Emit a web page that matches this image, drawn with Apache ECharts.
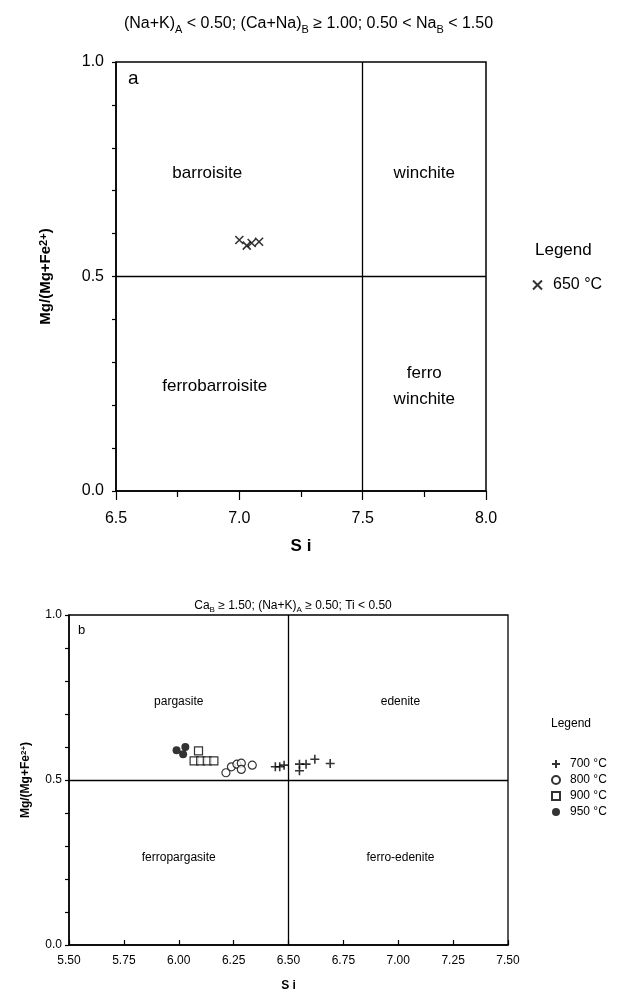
<!DOCTYPE html>
<html><head><meta charset="utf-8">
<script src="https://cdn.jsdelivr.net/npm/echarts@6/dist/echarts.min.js"></script>
<style>html,body{margin:0;padding:0;background:#fff}#c{width:617px;height:993px}</style>
</head><body><div id="c"></div>
<script>
// ---- Panel a data ----
const aTitle = '(Na+K){sub|A} < 0.50; (Ca+Na){sub|B} ≥ 1.00; 0.50 < Na{sub|B} < 1.50';
const aXTicks = [6.5, 7.0, 7.5, 8.0];
const aYTicks = [0.0, 0.5, 1.0];
const aSplitSi = 7.5;
const aSplitMg = 0.5;
const a650Si = [7.00, 7.03, 7.05, 7.08];
const a650Mg = [0.585, 0.572, 0.578, 0.581];
const aFieldNames = ['barroisite', 'winchite', 'ferrobarroisite', 'ferro\nwinchite'];
const aFieldSi = [6.87, 7.75, 6.90, 7.75];
const aFieldMg = [0.74, 0.74, 0.245, 0.245];

// ---- Panel b data ----
const bTitle = 'Ca{sub|B} ≥ 1.50; (Na+K){sub|A} ≥ 0.50; Ti < 0.50';
const bXTicks = [5.50, 5.75, 6.00, 6.25, 6.50, 6.75, 7.00, 7.25, 7.50];
const bYTicks = [0.0, 0.5, 1.0];
const bSplitSi = 6.5;
const bSplitMg = 0.5;
const b700Si = [6.44, 6.46, 6.48, 6.55, 6.55, 6.58, 6.62, 6.69];
const b700Mg = [0.540, 0.540, 0.545, 0.548, 0.528, 0.548, 0.563, 0.550];
const b800Si = [6.215, 6.24, 6.265, 6.285, 6.285, 6.335];
const b800Mg = [0.522, 0.540, 0.548, 0.551, 0.532, 0.545];
const b900Si = [6.09, 6.07, 6.10, 6.13, 6.16];
const b900Mg = [0.588, 0.558, 0.558, 0.558, 0.558];
const b950Si = [5.99, 6.03, 6.02];
const b950Mg = [0.590, 0.600, 0.578];
const bFieldNames = ['pargasite', 'edenite', 'ferropargasite', 'ferro-edenite'];
const bFieldSi = [6.00, 7.01, 6.00, 7.01];
const bFieldMg = [0.736, 0.736, 0.264, 0.264];

const FONT = 'Liberation Sans, Arial, sans-serif';
const zip = (xs, ys) => xs.map((x, i) => [x, ys[i]]);
const fields = (names, xs, ys) => names.map((n, i) => ({ name: n, value: [xs[i], ys[i]] }));
const crossPath = 'path://M0,0L10,10M10,0L0,10';
const plusPath = 'path://M5,0L5,10M0,5L10,5';

const chart = echarts.init(document.getElementById('c'), null, { renderer: 'canvas' });

function xAxisCfg(gridIndex, min, max, interval, minorSplit, fontSize, tickInside, labelMargin, name, nameSize, nameGap, decimals, ticks) {
  return {
    type: 'value', gridIndex, min, max, interval,
    axisLine: { lineStyle: { color: '#000', width: 1.5 } },
    axisTick: { show: true, inside: tickInside, length: tickInside ? 5 : 9, lineStyle: { color: '#000', width: 1.2 } },
    minorTick: { show: minorSplit > 1, splitNumber: minorSplit, length: 6, lineStyle: { color: '#000', width: 1.2 } },
    splitLine: { show: false },
    axisLabel: {
      color: '#000', fontSize, fontFamily: FONT, margin: labelMargin,
      formatter: v => { const t = ticks.find(k => Math.abs(k - v) < 1e-6); return t === undefined ? '' : t.toFixed(decimals); }
    },
    name, nameLocation: 'middle', nameGap,
    nameTextStyle: { color: '#000', fontSize: nameSize, fontWeight: 'bold', fontFamily: FONT }
  };
}
function yAxisCfg(gridIndex, fontSize, labelMargin, nameSize, nameGap, ticks) {
  return {
    type: 'value', gridIndex, min: 0, max: 1, interval: 0.1,
    axisLine: { lineStyle: { color: '#000', width: 1.5 } },
    axisTick: { show: true, length: 4, lineStyle: { color: '#000', width: 1.2 } },
    splitLine: { show: false },
    axisLabel: {
      color: '#000', fontSize, fontFamily: FONT, margin: labelMargin,
      formatter: v => { const t = ticks.find(k => Math.abs(k - v) < 1e-6); return t === undefined ? '' : t.toFixed(1); }
    },
    name: 'Mg/(Mg+Fe{sup|2+})', nameLocation: 'middle', nameGap,
    nameTextStyle: {
      color: '#000', fontSize: nameSize, fontWeight: 'bold', fontFamily: FONT,
      rich: { sup: { fontSize: Math.round(nameSize * 0.7), fontWeight: 'bold', fontFamily: FONT, color: '#000', verticalAlign: 'top', lineHeight: nameSize * 0.9 } }
    }
  };
}
function splitLines(xAxisIndex, yAxisIndex, sx, sy) {
  return {
    type: 'line', xAxisIndex, yAxisIndex, data: [], silent: true,
    markLine: {
      symbol: 'none', silent: true, label: { show: false },
      lineStyle: { color: '#000', width: 1.3, type: 'solid' },
      data: [{ xAxis: sx }, { yAxis: sy }], animation: false
    }
  };
}
function fieldSeries(xAxisIndex, yAxisIndex, data, fontSize, lh) {
  return {
    type: 'scatter', xAxisIndex, yAxisIndex, data, symbolSize: 0, silent: true,
    itemStyle: { color: '#000' },
    label: { show: true, position: 'inside', formatter: p => p.name, color: '#000', fontSize, fontFamily: FONT, lineHeight: lh, align: 'center',
      textBorderWidth: 0, textBorderColor: 'transparent', opacity: 1 },
    emphasis: { disabled: true }
  };
}
const openStyle = { color: '#fff', borderColor: '#000', borderWidth: 1.2 };
const strokeStyle = { color: 'rgba(0,0,0,0)', borderColor: '#000', borderWidth: 1.6 };

const subRich = (fs) => ({ sub: { fontSize: Math.round(fs * 0.7), fontFamily: FONT, color: '#000', verticalAlign: 'bottom', lineHeight: fs * 0.75 } });

chart.setOption({
  animation: false,
  title: [
    { text: aTitle, left: 'center', top: 8, textStyle: { color: '#000', fontSize: 16, fontWeight: 'normal', fontFamily: FONT, lineHeight: 22, rich: subRich(16) } },
    { text: bTitle, left: 288, textAlign: 'center', top: 593, textStyle: { color: '#000', fontSize: 12, fontWeight: 'normal', fontFamily: FONT, lineHeight: 16, rich: subRich(12) } },
    { text: 'a', left: 123, top: 64, textStyle: { color: '#000', fontSize: 19, fontWeight: 'normal', fontFamily: FONT } },
    { text: 'b', left: 73, top: 619, textStyle: { color: '#000', fontSize: 13, fontWeight: 'normal', fontFamily: FONT } },
    { text: 'Legend', left: 530, top: 237, textStyle: { color: '#000', fontSize: 17, fontWeight: 'normal', fontFamily: FONT } },
    { text: 'Legend', left: 546, top: 713, textStyle: { color: '#000', fontSize: 12, fontWeight: 'normal', fontFamily: FONT } }
  ],
  legend: [
    { data: [{ name: '650 °C', icon: crossPath }], orient: 'vertical', left: 532, top: 277, padding: 0, itemWidth: 9, itemHeight: 9, itemGap: 6,
      textStyle: { color: '#000', fontSize: 16, fontFamily: FONT, padding: [0, 0, 0, 6] }, selectedMode: false },
    { data: [{ name: '700 °C', icon: plusPath }, { name: '800 °C', icon: 'circle' }, { name: '900 °C', icon: 'rect' }, { name: '950 °C', icon: 'circle' }],
      orient: 'vertical', left: 551, top: 758, padding: 0, itemWidth: 8, itemHeight: 8, itemGap: 4,
      textStyle: { color: '#000', fontSize: 12, fontFamily: FONT, padding: [0, 0, 0, 5] }, selectedMode: false }
  ],
  grid: [
    { left: 116, right: 131, top: 62, bottom: 502, show: true, borderColor: '#000', borderWidth: 1.5, backgroundColor: 'transparent' },
    { left: 69, right: 109, top: 615, bottom: 48, show: true, borderColor: '#000', borderWidth: 1.3, backgroundColor: 'transparent' }
  ],
  xAxis: [
    xAxisCfg(0, 6.5, 8.0, 0.5, 2, 16, false, 20, 'S i', 17, 47, 1, aXTicks),
    xAxisCfg(1, 5.5, 7.5, 0.25, 0, 12, true, 10, 'S i', 12, 35, 2, bXTicks)
  ],
  yAxis: [
    yAxisCfg(0, 16, 12, 15, 63, aYTicks),
    yAxisCfg(1, 12, 7, 12, 37, bYTicks)
  ],
  series: [
    splitLines(0, 0, aSplitSi, aSplitMg),
    splitLines(1, 1, bSplitSi, bSplitMg),
    fieldSeries(0, 0, fields(aFieldNames, aFieldSi, aFieldMg), 17, 26),
    fieldSeries(1, 1, fields(bFieldNames, bFieldSi, bFieldMg), 12, 16),
    { name: '650 °C', type: 'scatter', xAxisIndex: 0, yAxisIndex: 0, data: zip(a650Si, a650Mg), symbol: crossPath, symbolSize: 8, itemStyle: strokeStyle },
    { name: '700 °C', type: 'scatter', xAxisIndex: 1, yAxisIndex: 1, data: zip(b700Si, b700Mg), symbol: plusPath, symbolSize: 9, itemStyle: strokeStyle },
    { name: '800 °C', type: 'scatter', xAxisIndex: 1, yAxisIndex: 1, data: zip(b800Si, b800Mg), symbol: 'circle', symbolSize: 8, itemStyle: openStyle },
    { name: '900 °C', type: 'scatter', xAxisIndex: 1, yAxisIndex: 1, data: zip(b900Si, b900Mg), symbol: 'rect', symbolSize: 8, itemStyle: openStyle },
    { name: '950 °C', type: 'scatter', xAxisIndex: 1, yAxisIndex: 1, data: zip(b950Si, b950Mg), symbol: 'circle', symbolSize: 8, itemStyle: { color: '#000' } }
  ]
});
</script></body></html>
